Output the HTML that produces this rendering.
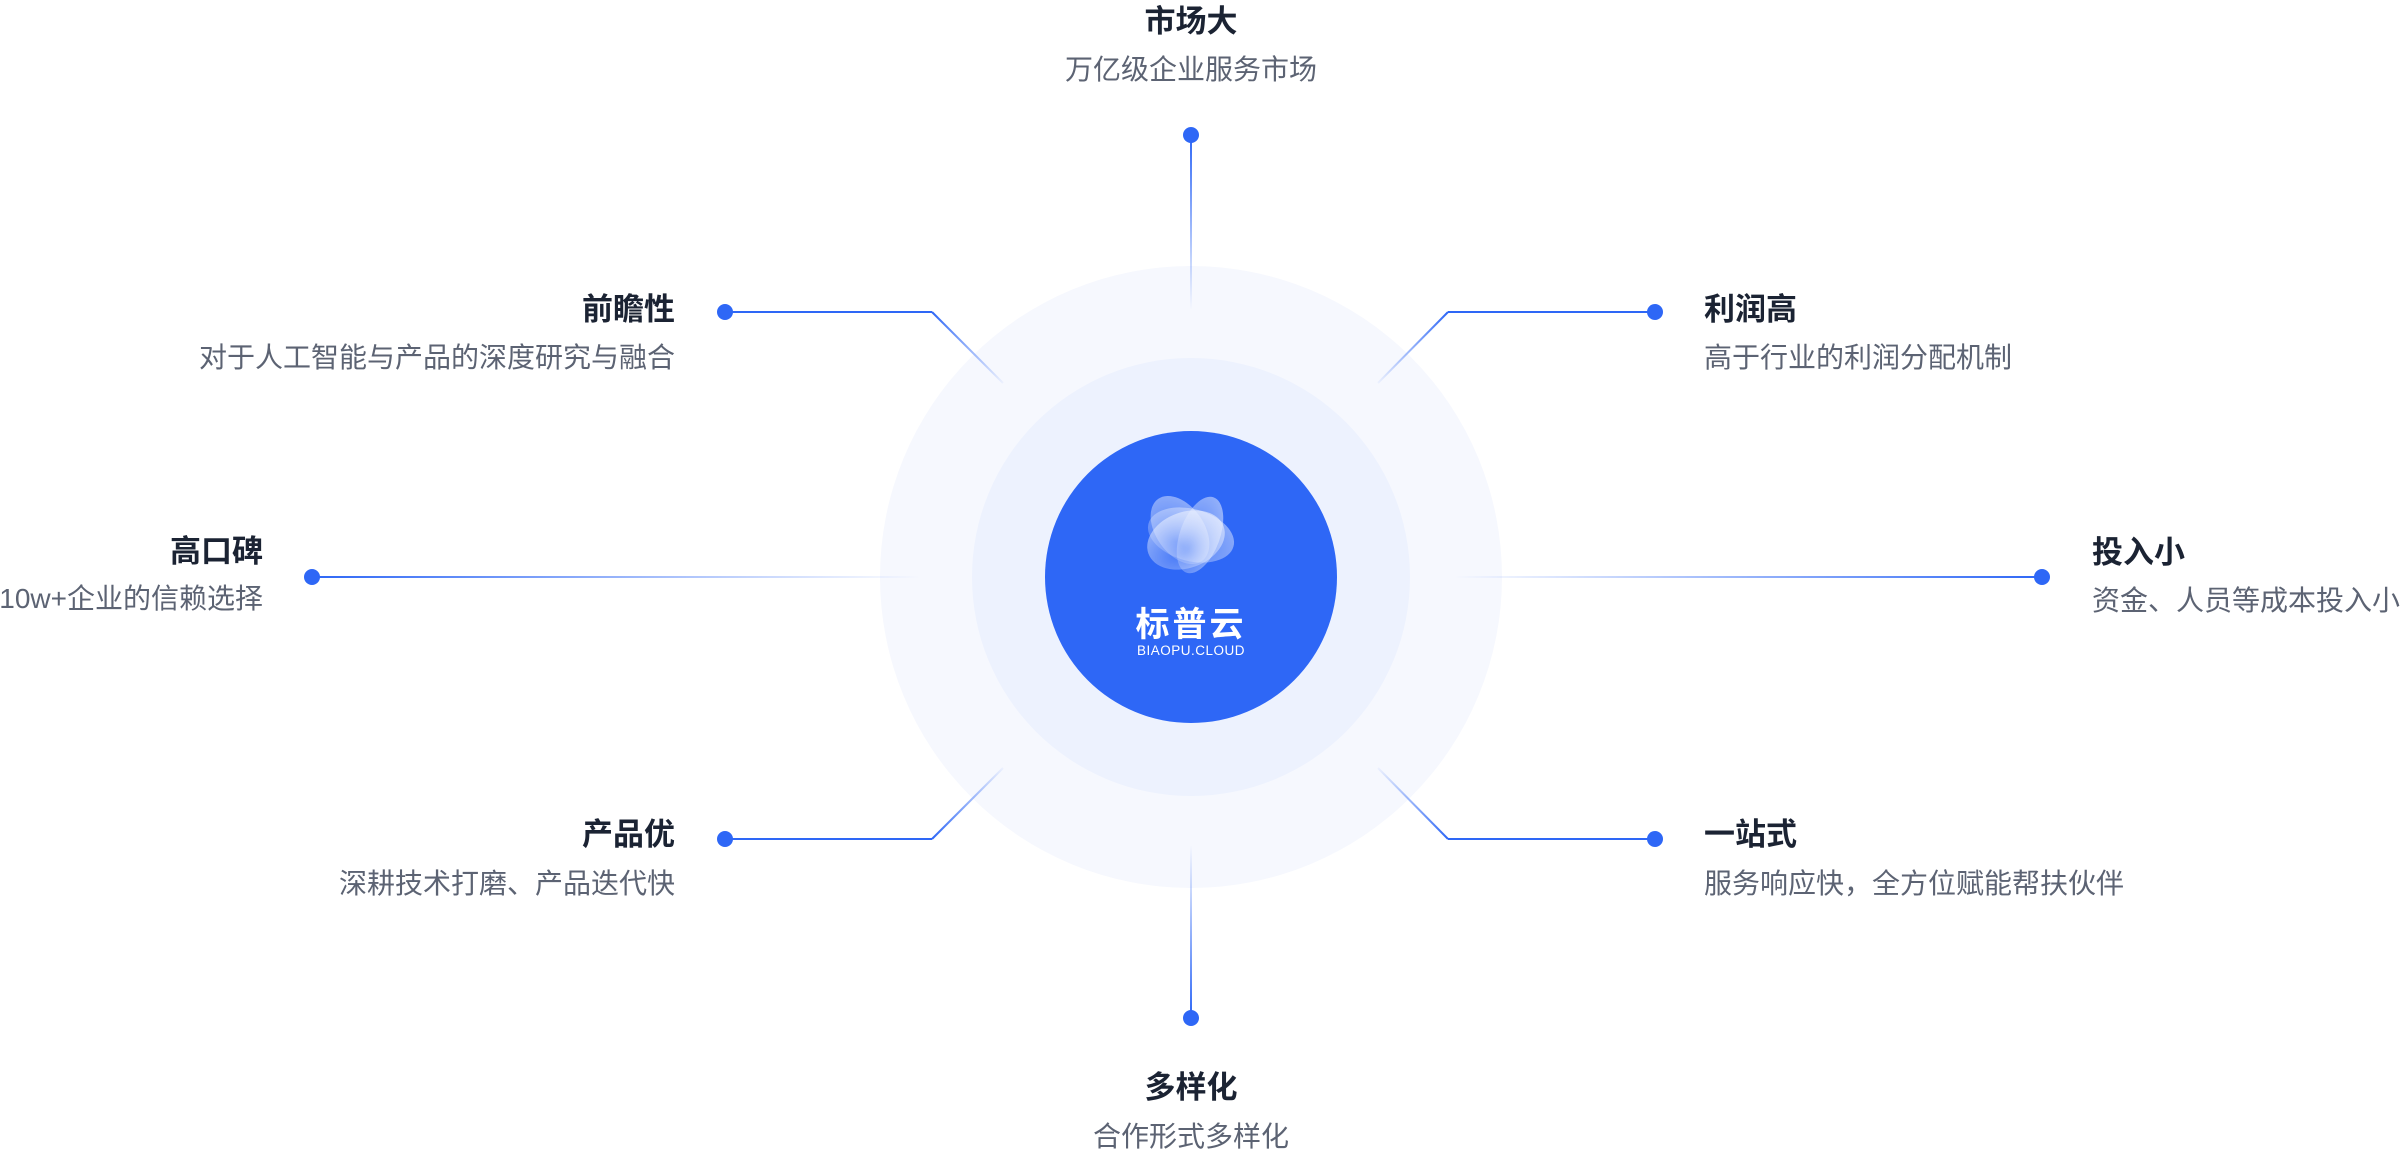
<!DOCTYPE html>
<html><head><meta charset="utf-8"><style>
html,body{margin:0;padding:0;background:#fff;}
svg{display:block}
.t{font-family:"Liberation Sans","Noto Sans CJK SC",sans-serif;font-weight:700;font-size:31px;fill:#1b2333}
.s{font-family:"Liberation Sans","Noto Sans CJK SC",sans-serif;font-size:28px;fill:#5c6373}
</style></head><body>
<svg width="2400" height="1154" viewBox="0 0 2400 1154" xmlns="http://www.w3.org/2000/svg">
<defs>
<linearGradient id="gT" gradientUnits="userSpaceOnUse" x1="0" y1="135" x2="0" y2="310"><stop offset="0" stop-color="#2e67f6"/><stop offset="1" stop-color="#2e67f6" stop-opacity="0"/></linearGradient>
<linearGradient id="gB" gradientUnits="userSpaceOnUse" x1="0" y1="1018" x2="0" y2="845"><stop offset="0" stop-color="#2e67f6"/><stop offset="1" stop-color="#2e67f6" stop-opacity="0"/></linearGradient>
<linearGradient id="gL" gradientUnits="userSpaceOnUse" x1="312" y1="0" x2="920" y2="0"><stop offset="0" stop-color="#2e67f6"/><stop offset="1" stop-color="#2e67f6" stop-opacity="0"/></linearGradient>
<linearGradient id="gR" gradientUnits="userSpaceOnUse" x1="2042" y1="0" x2="1454" y2="0"><stop offset="0" stop-color="#2e67f6"/><stop offset="1" stop-color="#2e67f6" stop-opacity="0"/></linearGradient>
<linearGradient id="gTL" gradientUnits="userSpaceOnUse" x1="932" y1="312" x2="1003" y2="383"><stop offset="0" stop-color="#2e67f6"/><stop offset="1" stop-color="#2e67f6" stop-opacity="0.05"/></linearGradient>
<linearGradient id="gTR" gradientUnits="userSpaceOnUse" x1="1448" y1="312" x2="1378" y2="383"><stop offset="0" stop-color="#2e67f6"/><stop offset="1" stop-color="#2e67f6" stop-opacity="0.05"/></linearGradient>
<linearGradient id="gBL" gradientUnits="userSpaceOnUse" x1="932" y1="839" x2="1003" y2="768"><stop offset="0" stop-color="#2e67f6"/><stop offset="1" stop-color="#2e67f6" stop-opacity="0.05"/></linearGradient>
<linearGradient id="gBR" gradientUnits="userSpaceOnUse" x1="1448" y1="839" x2="1378" y2="768"><stop offset="0" stop-color="#2e67f6"/><stop offset="1" stop-color="#2e67f6" stop-opacity="0.05"/></linearGradient>
<radialGradient id="pet" cx="0.35" cy="0.7" r="0.8"><stop offset="0" stop-color="#fff" stop-opacity="0.2"/><stop offset="1" stop-color="#fff" stop-opacity="0.95"/></radialGradient>
</defs>
<circle cx="1191" cy="577" r="311" fill="#f6f8fe"/>
<circle cx="1191" cy="577" r="219" fill="#edf2fe"/>
<circle cx="1191" cy="577" r="146" fill="#2e67f6"/>
<g opacity="0.9">
<ellipse cx="1191" cy="535" rx="44" ry="26" fill="url(#pet)" opacity="0.55" transform="rotate(15 1191 535)"/>
<ellipse cx="1180" cy="530" rx="24" ry="38" fill="url(#pet)" opacity="0.55" transform="rotate(-35 1180 530)"/>
<ellipse cx="1200" cy="535" rx="20" ry="40" fill="url(#pet)" opacity="0.6" transform="rotate(20 1200 535)"/>
<ellipse cx="1186" cy="540" rx="40" ry="28" fill="url(#pet)" opacity="0.7" transform="rotate(-20 1186 540)"/>
</g>
<text x="1191" y="636" text-anchor="middle" font-family="Liberation Sans,Noto Sans CJK SC,sans-serif" font-size="34" font-weight="700" fill="#fff" letter-spacing="3">标普云</text>
<text x="1191" y="655" text-anchor="middle" font-family="Liberation Sans,sans-serif" font-size="13.5" fill="#fff" letter-spacing="0.5">BIAOPU.CLOUD</text>
<line x1="1191" y1="135" x2="1191" y2="310" stroke="url(#gT)" stroke-width="2"/>
<line x1="1191" y1="1018" x2="1191" y2="845" stroke="url(#gB)" stroke-width="2"/>
<line x1="312" y1="577" x2="920" y2="577" stroke="url(#gL)" stroke-width="2"/>
<line x1="2042" y1="577" x2="1454" y2="577" stroke="url(#gR)" stroke-width="2"/>
<line x1="725" y1="312" x2="932" y2="312" stroke="#2e67f6" stroke-width="2"/>
<line x1="932" y1="312" x2="1003" y2="383" stroke="url(#gTL)" stroke-width="2"/>
<line x1="1655" y1="312" x2="1448" y2="312" stroke="#2e67f6" stroke-width="2"/>
<line x1="1448" y1="312" x2="1378" y2="383" stroke="url(#gTR)" stroke-width="2"/>
<line x1="725" y1="839" x2="932" y2="839" stroke="#2e67f6" stroke-width="2"/>
<line x1="932" y1="839" x2="1003" y2="768" stroke="url(#gBL)" stroke-width="2"/>
<line x1="1655" y1="839" x2="1448" y2="839" stroke="#2e67f6" stroke-width="2"/>
<line x1="1448" y1="839" x2="1378" y2="768" stroke="url(#gBR)" stroke-width="2"/>
<g fill="#2e67f6">
<circle cx="1191" cy="135" r="8"/><circle cx="1191" cy="1018" r="8"/>
<circle cx="312" cy="577" r="8"/><circle cx="2042" cy="577" r="8"/>
<circle cx="725" cy="312" r="8"/><circle cx="1655" cy="312" r="8"/>
<circle cx="725" cy="839" r="8"/><circle cx="1655" cy="839" r="8"/>
</g>
<text class="t" x="1191" y="32" text-anchor="middle">市场大</text>
<text class="s" x="1191" y="79" text-anchor="middle">万亿级企业服务市场</text>
<text class="t" x="675" y="320" text-anchor="end">前瞻性</text>
<text class="s" x="675" y="367" text-anchor="end">对于人工智能与产品的深度研究与融合</text>
<text class="t" x="1704" y="320">利润高</text>
<text class="s" x="1704" y="367">高于行业的利润分配机制</text>
<text class="t" x="263" y="562" text-anchor="end">高口碑</text>
<text class="s" x="263" y="608" text-anchor="end">10w+企业的信赖选择</text>
<text class="t" x="2092" y="563">投入小</text>
<text class="s" x="2092" y="610">资金、人员等成本投入小</text>
<text class="t" x="675" y="845" text-anchor="end">产品优</text>
<text class="s" x="675" y="893" text-anchor="end">深耕技术打磨、产品迭代快</text>
<text class="t" x="1704" y="845">一站式</text>
<text class="s" x="1704" y="893">服务响应快，全方位赋能帮扶伙伴</text>
<text class="t" x="1191" y="1098" text-anchor="middle">多样化</text>
<text class="s" x="1191" y="1146" text-anchor="middle">合作形式多样化</text>
</svg>
</body></html>
